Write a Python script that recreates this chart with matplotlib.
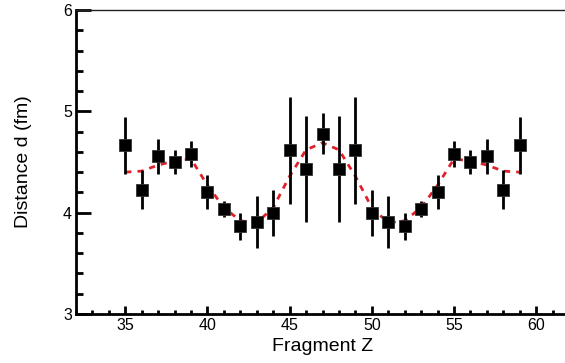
import numpy as np
import matplotlib
matplotlib.use("Agg")
import matplotlib.pyplot as plt
from matplotlib.ticker import MultipleLocator

plt.rcParams["font.family"] = ["Liberation Sans", "DejaVu Sans"]

# measured distances per fragment charge
z = [35, 36, 37, 38, 39, 40, 41, 42, 43, 44, 45, 46, 47,
     48, 49, 50, 51, 52, 53, 54, 55, 56, 57, 58, 59]
d = [4.665, 4.227, 4.556, 4.50, 4.579, 4.203, 4.035, 3.864, 3.907, 3.996, 4.616, 4.431, 4.78,
     4.431, 4.616, 3.996, 3.907, 3.864, 4.035, 4.203, 4.579, 4.50, 4.556, 4.227, 4.665]
d_err = [0.28, 0.19, 0.175, 0.12, 0.13, 0.17, 0.08, 0.13, 0.26, 0.23, 0.53, 0.52, 0.20,
         0.52, 0.53, 0.23, 0.26, 0.13, 0.08, 0.17, 0.13, 0.12, 0.175, 0.19, 0.28]

# model curve
model = [4.40, 4.41, 4.47, 4.51, 4.53, 4.27, 4.05, 3.92, 3.90, 4.05, 4.36, 4.62, 4.69,
         4.62, 4.36, 4.05, 3.90, 3.92, 4.05, 4.27, 4.53, 4.51, 4.47, 4.41, 4.40]

fig = plt.figure(figsize=(5.65, 3.63), dpi=100)
ax = fig.add_axes([76 / 565, 49 / 363, 493 / 565, 304 / 363])

ax.plot(z, model, color="#e0202a", ls=(0, (2.2, 2.2)), lw=2.0, zorder=2)
ax.errorbar(z, d, yerr=d_err, fmt="s", color="black", ms=8.6, mec="#333333", mew=0.6,
            elinewidth=2.0, capsize=0, zorder=3)

ax.set_xlim(32, 62)
ax.set_ylim(3, 6)
ax.xaxis.set_major_locator(MultipleLocator(5))
ax.xaxis.set_minor_locator(MultipleLocator(1))
ax.yaxis.set_major_locator(MultipleLocator(1))
ax.yaxis.set_minor_locator(MultipleLocator(0.2))

ax.tick_params(axis="both", which="both", direction="in", top=False, right=False, labelsize=11.5,
               color="black", width=2.0)
ax.tick_params(axis="x", which="major", length=6, pad=3)
ax.tick_params(axis="x", which="minor", length=3)
ax.tick_params(axis="y", which="major", length=11, pad=3)
ax.tick_params(axis="y", which="minor", length=5)

for side in ["left", "bottom"]:
    ax.spines[side].set_linewidth(2.0)
ax.spines["top"].set_linewidth(1.0)
ax.spines["top"].set_color("#222222")
ax.spines["right"].set_visible(False)

ax.set_xlabel("Fragment Z", fontsize=14, labelpad=3.5)
ax.set_ylabel("Distance d (fm)", fontsize=14, labelpad=22)

fig.savefig("out.png", dpi=100)
